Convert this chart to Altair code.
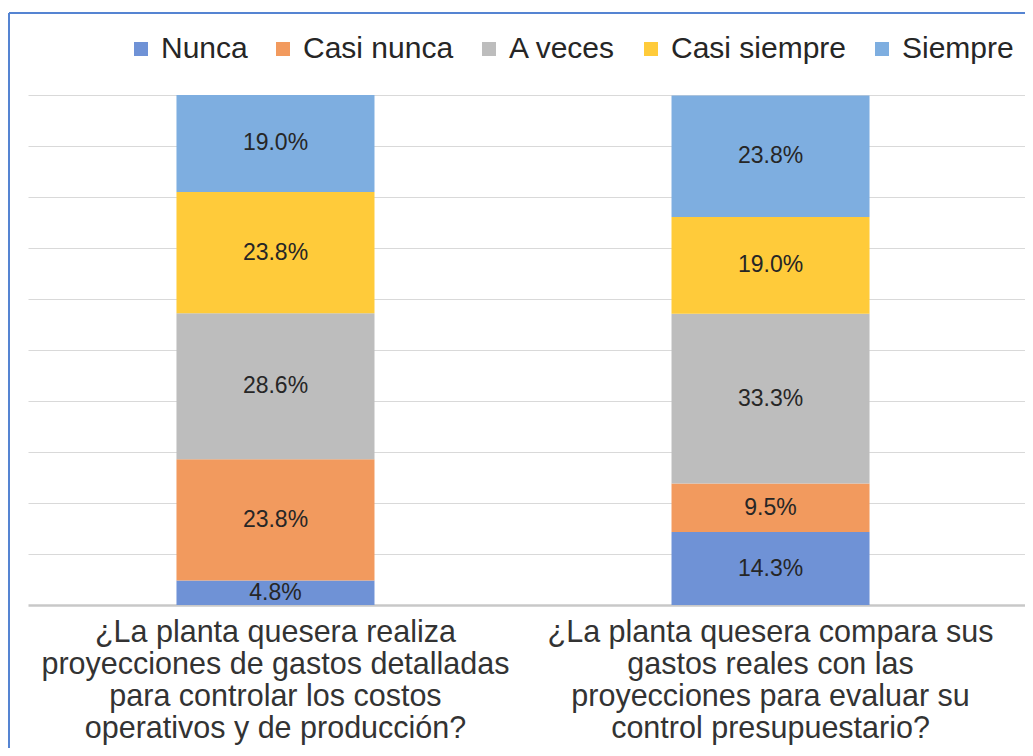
import altair as alt
import pandas as pd

categories = [
    "¿La planta quesera realiza|proyecciones de gastos detalladas|para controlar los costos|operativos y de producción?",
    "¿La planta quesera compara sus|gastos reales con las|proyecciones para evaluar su|control presupuestario?",
]
series = ["Nunca", "Casi nunca", "A veces", "Casi siempre", "Siempre"]
q1_values = [4.8, 23.8, 28.6, 23.8, 19.0]
q2_values = [14.3, 9.5, 33.3, 19.0, 23.8]
colors = ["#6F92D6", "#F29A5E", "#BDBDBD", "#FFCB3A", "#7EAEE0"]

rows = []
for cat, vals in zip(categories, [q1_values, q2_values]):
    for i, (s, v) in enumerate(zip(series, vals)):
        rows.append({"cat": cat, "series": s, "value": v, "idx": i})
df = pd.DataFrame(rows)

FONT = "Liberation Sans"

xscale = alt.Scale(domain=categories, paddingInner=0.6, paddingOuter=0.307, align=0.4885)

bars = alt.Chart(df).mark_bar().encode(
    x=alt.X("cat:N", sort=categories, scale=xscale,
            axis=alt.Axis(title=None, labelExpr="split(datum.label, '|')", labelAngle=0,
                          labelFontSize=30.5, labelLineHeight=32, labelColor="#333333",
                          labelPadding=12, ticks=False, domainColor="#C8C8C8", domainWidth=2.5,
                          labelFont=FONT, labelLimit=0, labelBaseline="top")),
    y=alt.Y("value:Q", stack="zero", scale=alt.Scale(domain=[0, 100], nice=False),
            axis=alt.Axis(title=None, labels=False, ticks=False, domain=False,
                          values=[10, 20, 30, 40, 50, 60, 70, 80, 90, 100],
                          gridColor="#D9D9D9", gridWidth=1)),
    color=alt.Color("series:N", sort=series, scale=alt.Scale(domain=series, range=colors),
                    legend=alt.Legend(title=None, orient="none", legendX=98, legendY=-61,
                                      direction="horizontal", symbolType="square", symbolSize=196,
                                      labelFontSize=30, labelFont=FONT, labelColor="#262626",
                                      columnPadding=20, labelOffset=5, symbolStrokeWidth=0,
                                      labelLimit=0, padding=0, offset=0)),
    order=alt.Order("idx:Q"),
)

labels = alt.Chart(df).transform_stack(
    stack="value", groupby=["cat"], sort=[alt.SortField("idx")], as_=["y0", "y1"]
).transform_calculate(
    mid="(datum.y0 + datum.y1) / 2",
    lbl="format(datum.value, '.1f') + '%'",
).mark_text(fontSize=23, font=FONT, color="#262626", baseline="middle").encode(
    x=alt.X("cat:N", sort=categories, scale=xscale),
    y=alt.Y("mid:Q"),
    text="lbl:N",
)

border_df = pd.DataFrame({"k": [0]})
left_border = alt.Chart(border_df).mark_rule(color="#5584D2", strokeWidth=2).encode(
    x=alt.value(-19), y=alt.value(-82), y2=alt.value(700)
)
top_border = alt.Chart(border_df).mark_rule(color="#5584D2", strokeWidth=2).encode(
    x=alt.value(-19), x2=alt.value(1100), y=alt.value(-82)
)

chart = alt.layer(bars, labels, left_border, top_border).properties(
    width=997, height=510,
    autosize=alt.AutoSizeParams(type="none"),
    padding={"left": 20, "top": 87, "right": 0, "bottom": 143},
    background="white",
).configure_view(stroke=None)

chart.save("out.html", embed_options={"renderer": "svg", "actions": False})
